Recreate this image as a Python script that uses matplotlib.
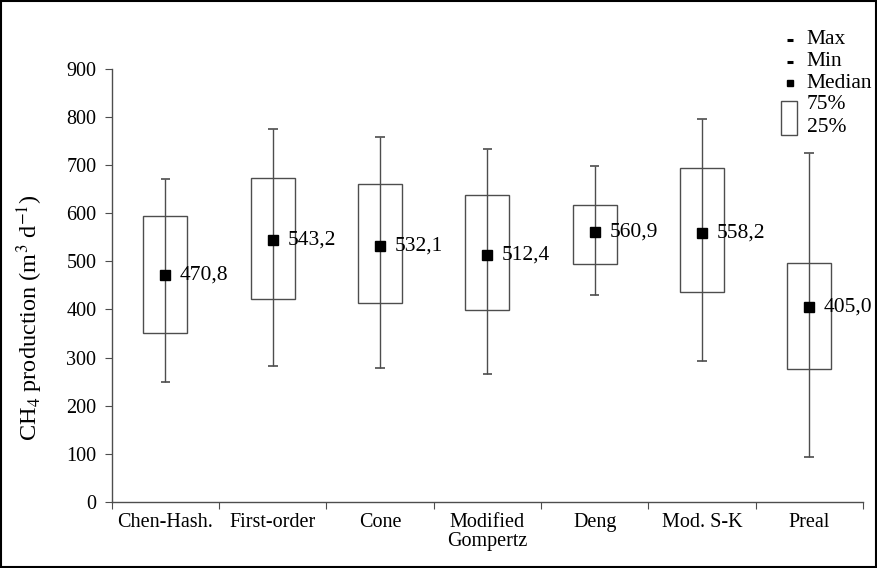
import numpy as np
import matplotlib
matplotlib.use("Agg")
import matplotlib.pyplot as plt
from matplotlib.patches import Rectangle

# valores (m3/d)
modelos = ["Chen-Hash.", "First-order", "Cone", "Modified\nGompertz", "Deng", "Mod. S-K", "Preal"]
maximos = [670, 774, 758, 732, 698, 796, 724]
q75 = [594, 672, 660, 637, 616, 694, 496]
medianas = [470.8, 543.2, 532.1, 512.4, 560.9, 558.2, 405.0]
q25 = [351, 422, 413, 398, 494, 436, 276]
minimos = [250, 283, 278, 266, 430, 294, 94]
rotulos = ["470,8", "543,2", "532,1", "512,4", "560,9", "558,2", "405,0"]

plt.rcParams['font.family'] = ['Liberation Serif', 'DejaVu Serif']
plt.rcParams['mathtext.fontset'] = 'stix'
plt.rcParams['font.size'] = 14.5

cinza = '#4d4d4d'

fig = plt.figure(figsize=(8.77, 5.68), dpi=100)
ax = fig.add_axes([0.1274, 0.1158, 0.8566, 0.7636])

x = np.arange(1, len(modelos) + 1)
q25 = np.array(q25)
q75 = np.array(q75)

# caixas 25%-75%
ax.bar(x, q75 - q25, bottom=q25, width=0.41, facecolor='white', edgecolor=cinza, linewidth=1.0, zorder=2)
# linha min-max
ax.vlines(x, minimos, maximos, color=cinza, linewidth=1.0, zorder=3)
ax.hlines(maximos, x - 0.045, x + 0.045, color=cinza, linewidth=1.2, zorder=3)
ax.hlines(minimos, x - 0.045, x + 0.045, color=cinza, linewidth=1.2, zorder=3)
# medianas
ax.plot(x, medianas, 's', color='black', markersize=7, zorder=4, linestyle='none')
for i in range(len(x)):
    ax.annotate(rotulos[i], xy=(x[i], medianas[i]), xytext=(10.5, 0), textcoords='offset points',
                va='center', ha='left', fontsize=15.5, zorder=5)

ax.set_xlim(0.5, len(modelos) + 0.5)
ax.set_ylim(0, 900)
ax.set_yticks(np.arange(0, 901, 100))
ax.set_xticks(np.arange(0.5, len(modelos) + 1, 1))
ax.set_xticklabels([])
ax.set_xticks(x, minor=True)
ax.set_xticklabels(modelos, minor=True, va='top', linespacing=0.95)
ax.tick_params(axis='x', which='minor', length=0, pad=8)
ax.tick_params(axis='x', which='major', length=5, direction='out', color=cinza)
ax.tick_params(axis='y', length=5, direction='out', color=cinza, pad=6)

for s in ['top', 'right']:
    ax.spines[s].set_visible(False)
for s in ['left', 'bottom']:
    ax.spines[s].set_color(cinza)
    ax.spines[s].set_linewidth(1.0)

ax.set_ylabel("CH$_4$ production (m$^3$ d$^{-1}$)", fontsize=17.5)
ax.yaxis.set_label_coords(-0.089, 0.425)

# legenda manual
lx, tx = 0.903, 0.925
ax.plot([lx], [1.066], marker='_', color='black', markersize=5, mew=2.2, transform=ax.transAxes, clip_on=False)
ax.text(tx, 1.066, "Max", transform=ax.transAxes, va='center', fontsize=15.5)
ax.plot([lx], [1.015], marker='_', color='black', markersize=5, mew=2.2, transform=ax.transAxes, clip_on=False)
ax.text(tx, 1.015, "Min", transform=ax.transAxes, va='center', fontsize=15.5)
ax.plot([lx], [0.966], marker='s', color='black', markersize=4, transform=ax.transAxes, clip_on=False)
ax.text(tx, 0.966, "Median", transform=ax.transAxes, va='center', fontsize=15.5)
ax.add_patch(Rectangle((0.891, 0.847), 0.021, 0.078, transform=ax.transAxes, facecolor='white',
                       edgecolor=cinza, linewidth=1.0, clip_on=False))
ax.text(tx, 0.916, "75%", transform=ax.transAxes, va='center', fontsize=15.5)
ax.text(tx, 0.863, "25%", transform=ax.transAxes, va='center', fontsize=15.5)

# moldura da figura
fig.add_artist(Rectangle((0.001, 0.001), 0.998, 0.997, transform=fig.transFigure, fill=False,
                         edgecolor='black', linewidth=1.5))

plt.savefig("out.png", dpi=100)
